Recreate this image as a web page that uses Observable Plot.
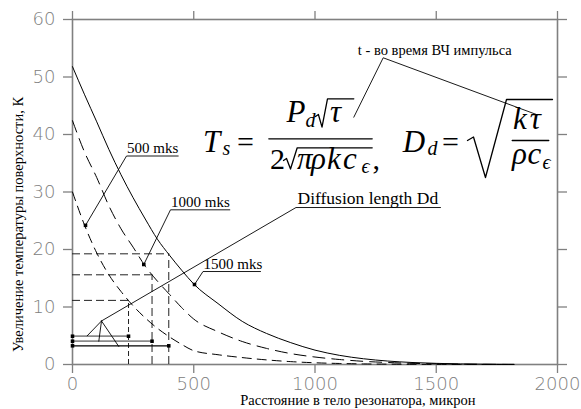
<!DOCTYPE html>
<html><head><meta charset="utf-8">
<script src="https://cdn.jsdelivr.net/npm/d3@7"></script>
<script src="https://cdn.jsdelivr.net/npm/@observablehq/plot@0.6"></script>
<style>body{margin:0;background:#fff}</style>
</head><body><div id="chart"></div>
<script>
// ---- data ----
const distance = [0,50,100,150,200,250,300,350,400,450,500,600,700,800,900,1000,1100,1200,1300,1400,1500,1600,1700,1820];
const t1500 = [51.8,46.9,42.2,37.4,33.0,29.0,25.3,21.8,19.0,16.4,14.0,10.6,7.5,5.4,3.8,2.5,1.6,1.0,0.6,0.35,0.2,0.1,0.05,0.02];
const t1000 = [42.4,36.9,32.5,27.6,23.6,20.4,17.1,14.5,12.2,9.9,7.9,5.7,4.0,2.8,1.9,1.3,0.87,0.55,0.35,0.2,0.12,0.06,0.03,0.01];
const t500  = [30.0,24.2,19.4,15.6,12.7,10.2,8.1,6.3,4.8,3.5,2.4,1.7,1.2,0.8,0.5,0.3,0.18,0.1,0.06,0.03,0.02,0.01,0.005,0];
const pulses = ["500 mks","1000 mks","1500 mks"];
const diffLength = [231, 328, 397];          // Dd, micron
const tempAtDd = [11.15, 15.6, 19.25];        // T at Dd, K
const barLevel = [4.92, 4.05, 3.25];          // Dd bars height
const xTicks = [0,500,1000,1500,2000];
const yTicks = [0,10,20,30,40,50,60];

const rows = distance.map((x,i)=>({x, t500:t500[i], t1000:t1000[i], t1500:t1500[i]}));

// ---- annotations (data units) ----
const leaders = [
  {g:"a",pts:[[53.6,24.2],[222.7,36.26],[435.9,36.26]]},
  {g:"b",pts:[[294,17.39],[404.1,26.9],[648.7,26.9]]},
  {g:"c",pts:[[503.1,13.91],[538.1,16.17],[775.3,16.17]]},
  {g:"d",pts:[[119.6,7.57],[921.6,27.3],[1517.5,27.3]]},
  {g:"e",pts:[[119.6,7.57],[60.6,4.99]]},
  {g:"f",pts:[[119.6,7.57],[108.5,4.05]]},
  {g:"h",pts:[[119.6,7.57],[190.9,3.13]]},
  {g:"t",pts:[[1160,43.01],[1281.2,53.34],[1916.3,43.43]]}
];
const leaderPts = leaders.flatMap(l=>l.pts.map(p=>({g:l.g,x:p[0],y:p[1]})));
const leaderDots = [[53.6,24.2],[294,17.39],[503.1,13.91]];
const labels = [
  {x:224.7,y:36.7,text:"500 mks",size:15},
  {x:406.2,y:27.39,text:"1000 mks",size:15},
  {x:540.2,y:16.6,text:"1500 mks",size:15},
  {x:927.8,y:27.83,text:"Diffusion length Dd",size:17.5},
  {x:1176.5,y:53.83,text:"t - во время ВЧ импульса",size:14.5}
];
const formula = [
  {x:538,y:36.87,t:"T",s:31,it:1},{x:618.6,y:36.35,t:"s",s:20,it:1},
  {x:678,y:36.87,t:"=",s:30,it:0},
  {x:882.6,y:42.09,t:"P",s:31,it:1},{x:960.8,y:41.39,t:"d",s:20,it:1},
  {x:1061.9,y:42.09,t:"τ",s:31,it:1},
  {x:814.5,y:34.0,t:"2",s:30,it:0},
  {x:925.8,y:34.0,t:"π",s:31,it:1},{x:983.6,y:34.0,t:"ρ",s:31,it:1},
  {x:1049.5,y:34.0,t:"k",s:31,it:1},{x:1115,y:34.0,t:"c",s:31,it:1},
  {x:1192,y:33.39,t:"ϵ",s:20,it:1},
  {x:1237.1,y:34.0,t:",",s:30,it:0},
  {x:1362,y:36.87,t:"D",s:31,it:1},{x:1464,y:36.35,t:"d",s:20,it:1},
  {x:1523.8,y:36.87,t:"=",s:30,it:0},
  {x:1816.6,y:40.96,t:"k",s:31,it:1},{x:1886,y:40.96,t:"τ",s:31,it:1},
  {x:1812,y:34.87,t:"ρ",s:31,it:1},{x:1876,y:34.87,t:"c",s:31,it:1},
  {x:1938,y:34.0,t:"ϵ",s:20,it:1}
];
const formulaStrokes = [
  {g:"bar1",pts:[[809.5,39.25],[1235.9,39.25]]},
  {g:"bar2",pts:[[1813.2,38.96],[1964.1,38.96]]},
  {g:"r1",pts:[[1002,43.13],[1014,43.48],[1028.9,41.27],[1051.5,46.21],[1160,46.21]]},
  {g:"r2",pts:[[870,35.48],[882.5,35.83],[899,34.0],[926.6,37.69],[1235.9,37.69]]},
  {g:"r3",pts:[[1628.9,38.96],[1653.6,39.57],[1703,32.52],[1789.7,46.09],[1979.4,46.09]]}
];
const strokePts = formulaStrokes.flatMap(l=>l.pts.map(p=>({g:l.g,x:p[0],y:p[1]})));

const gray = "#808080";
const serif = "Liberation Serif";
const tickFont = {fill:gray, fontSize:18, fontFamily:"DejaVu Sans", fontWeight:200};
const fmt = d3.format("d");

const chart = Plot.plot({
  width:581, height:409,
  marginLeft:72, marginRight:24, marginTop:19, marginBottom:45,
  x:{domain:[0,2000]},
  y:{domain:[0,60]},
  style:{background:"#fff", overflow:"visible"},
  marks:[
    Plot.axisX(xTicks,{anchor:"bottom",tickSize:9,tickPadding:4,stroke:gray,strokeWidth:1.3,label:null,tickFormat:fmt,...tickFont}),
    Plot.axisX(xTicks,{anchor:"top",tickSize:9,stroke:gray,strokeWidth:1.3,label:null,tickFormat:()=>"" }),
    Plot.axisY(yTicks,{anchor:"left",tickSize:9,tickPadding:8,stroke:gray,strokeWidth:1.3,label:null,tickFormat:fmt,...tickFont}),
    Plot.axisY(yTicks,{anchor:"right",tickSize:9,stroke:gray,strokeWidth:1.3,label:null,tickFormat:()=>"" }),
    Plot.frame({stroke:gray,strokeWidth:1.6}),
    // Dd guide boxes
    Plot.ruleY(tempAtDd,{x1:0,x2:(d,i)=>diffLength[i],y:d=>d,stroke:"#222",strokeWidth:1,strokeDasharray:"8,4"}),
    Plot.ruleX(diffLength.slice(0,1),{x:d=>d,y1:0,y2:tempAtDd[0],stroke:"#222",strokeWidth:1,strokeDasharray:"5,3"}),
    Plot.ruleX(diffLength.slice(1),{x:d=>d,y1:0,y2:(d,i)=>tempAtDd[i+1],stroke:"#222",strokeWidth:1,strokeDasharray:"8,4"}),
    // Dd bars
    Plot.ruleY(barLevel.slice(0,2),{x1:0,x2:(d,i)=>diffLength[i],y:d=>d,stroke:"#8a8a8a",strokeWidth:1.8}),
    Plot.ruleY(barLevel.slice(2),{x1:0,x2:diffLength[2],y:d=>d,stroke:"#000",strokeWidth:1.2}),
    Plot.dot(barLevel.flatMap((b,i)=>[[0,b],[diffLength[i],b]]),{x:d=>d[0],y:d=>d[1],symbol:"square",r:2,fill:"#000"}),
    // curves
    Plot.line(rows,{x:"x",y:"t1500",stroke:"#000",strokeWidth:1,curve:"monotone-x"}),
    Plot.line(rows,{x:"x",y:"t1000",stroke:"#000",strokeWidth:1,strokeDasharray:"12,7",curve:"monotone-x"}),
    Plot.line(rows,{x:"x",y:"t500",stroke:"#000",strokeWidth:1,strokeDasharray:"9,6",curve:"monotone-x"}),
    // leaders
    Plot.line(leaderPts,{x:"x",y:"y",z:"g",stroke:"#000",strokeWidth:0.9}),
    Plot.dot(leaderDots,{x:d=>d[0],y:d=>d[1],symbol:"square",r:2,fill:"#000"}),
    Plot.text(labels,{x:"x",y:"y",text:"text",fontSize:d=>d.size,fontFamily:serif,textAnchor:"start",lineAnchor:"bottom",fill:"#000"}),
    // formula
    Plot.line(strokePts,{x:"x",y:"y",z:"g",stroke:"#000",strokeWidth:1.3}),
    Plot.text(formula.filter(d=>d.it),{x:"x",y:"y",text:"t",fontSize:d=>d.s,fontStyle:"italic",fontFamily:serif,textAnchor:"start",lineAnchor:"bottom",fill:"#000"}),
    Plot.text(formula.filter(d=>!d.it),{x:"x",y:"y",text:"t",fontSize:d=>d.s,fontFamily:serif,textAnchor:"start",lineAnchor:"bottom",fill:"#000"}),
    // axis titles
    Plot.text(["Расстояние в тело резонатора, микрон"],{x:()=>1177,y:()=>-7.13,text:d=>d,fontSize:14.5,fontFamily:serif,textAnchor:"middle",lineAnchor:"bottom",fill:"#000"}),
    Plot.text(["Увеличение температуры поверхности, К"],{x:()=>-224.7,y:()=>24.35,text:d=>d,rotate:-90,fontSize:14.5,fontFamily:serif,textAnchor:"middle",lineAnchor:"middle",fill:"#000"})
  ]
});
document.getElementById("chart").appendChild(chart);
</script>
</body></html>
